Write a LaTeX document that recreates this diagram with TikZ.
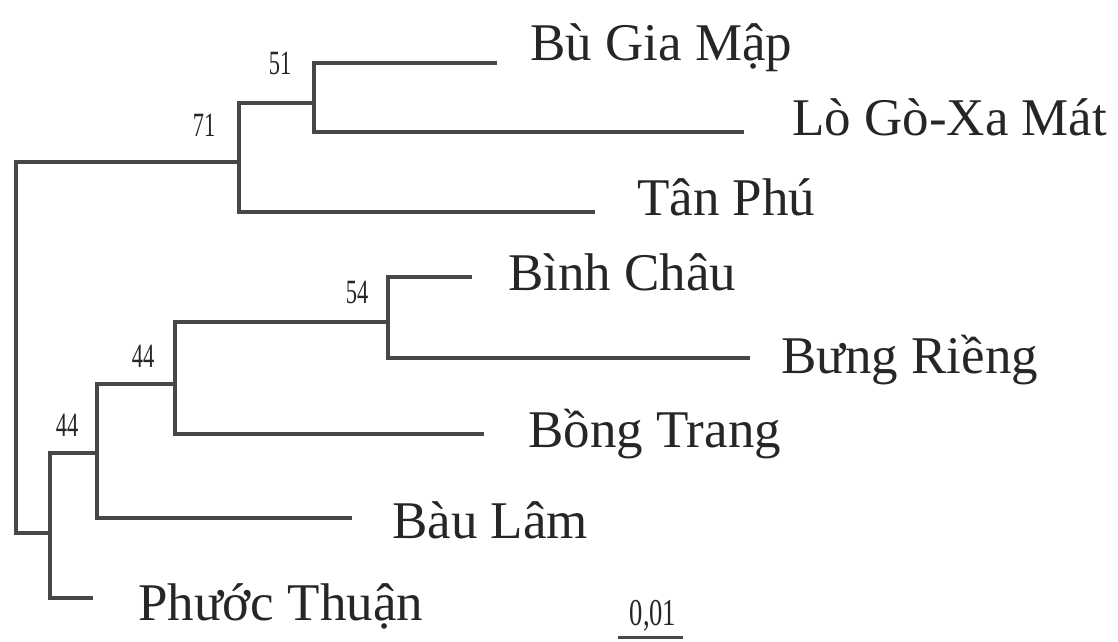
\documentclass[tikz,border=0pt]{standalone}
\usepackage{fontspec}
\setmainfont{Liberation Serif}
\begin{document}
\begin{tikzpicture}[x=1pt,y=-1pt,
  branch/.style={draw=black!72, line width=4.6pt, line cap=rect, line join=miter},
  taxon/.style={anchor=base west, inner sep=0pt, font=\fontsize{53}{60}\selectfont, text=black!85},
  boot/.style={anchor=center, inner sep=0pt, font=\fontsize{34}{40}\selectfont, xscale=0.66, text=black!85},
  scalelab/.style={anchor=base, inner sep=0pt, font=\fontsize{38}{44}\selectfont, xscale=0.7, text=black!85}]
\useasboundingbox (0,0) rectangle (1118,641);
% internal nodes
\coordinate (R) at (16,348);
\coordinate (n71) at (239,162);
\coordinate (n51) at (314,103);
\coordinate (n44a) at (50,533);
\coordinate (n44b) at (97,453);
\coordinate (n44c) at (175,384);
\coordinate (n54) at (388,322);
% tips
\coordinate (t1) at (495,63);
\coordinate (t2) at (742,132);
\coordinate (t3) at (593,212);
\coordinate (t4) at (470,277);
\coordinate (t5) at (748,358);
\coordinate (t6) at (482,434);
\coordinate (t7) at (350,518);
\coordinate (t8) at (91,598);
% branches
\draw[branch] (R) |- (n71);
\draw[branch] (R) |- (n44a);
\draw[branch] (n71) |- (n51);
\draw[branch] (n71) |- (t3);
\draw[branch] (n51) |- (t1);
\draw[branch] (n51) |- (t2);
\draw[branch] (n44a) |- (n44b);
\draw[branch] (n44a) |- (t8);
\draw[branch] (n44b) |- (n44c);
\draw[branch] (n44b) |- (t7);
\draw[branch] (n44c) |- (n54);
\draw[branch] (n44c) |- (t6);
\draw[branch] (n54) |- (t4);
\draw[branch] (n54) |- (t5);
% taxon labels
\node[taxon] (l1) at (530,60) {Bù Gia Mập};
\node[taxon] (l2) at (792,135) {Lò Gò-Xa Mát};
\node[taxon] (l3) at (637,215) {Tân Phú};
\node[taxon] (l4) at (508,290) {Bình Châu};
\node[taxon] (l5) at (781,373) {Bưng Riềng};
\node[taxon] (l6) at (528,447) {Bồng Trang};
\node[taxon] (l7) at (392,538) {Bàu Lâm};
\node[taxon] (l8) at (138,620) {Phước Thuận};
% bootstrap values
\node[boot] (b51) at (280,63) {51};
\node[boot] (b71) at (204,125) {71};
\node[boot] (b54) at (357,292) {54};
\node[boot] (b44u) at (143,356) {44};
\node[boot] (b44l) at (67,425) {44};
% scale bar
\node[scalelab] (sl) at (653,625) {0,01};
\coordinate (s1) at (618,637);
\coordinate (s2) at (683,637);
\draw[draw=black!72, line width=3pt] (s1) -- (s2);
\end{tikzpicture}
\end{document}
